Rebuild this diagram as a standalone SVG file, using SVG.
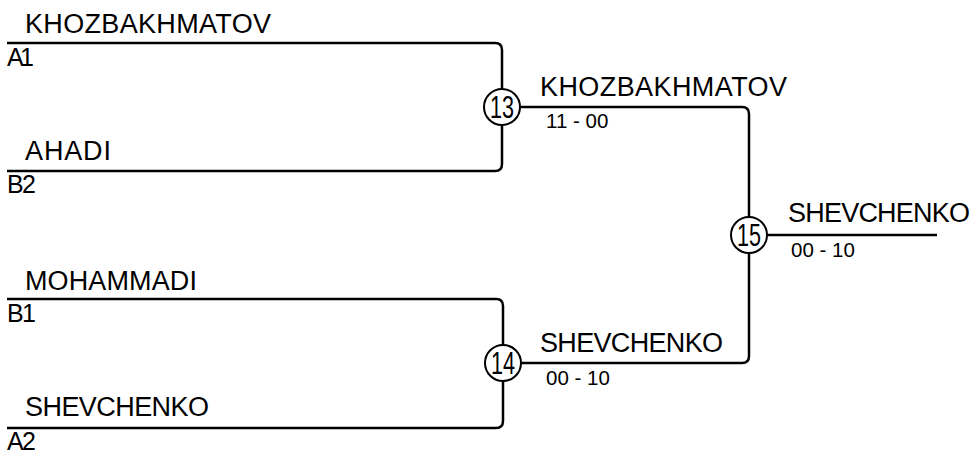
<svg xmlns="http://www.w3.org/2000/svg" width="973" height="454" viewBox="0 0 973 454">
<style>
.ln{fill:none;stroke:#000;stroke-width:2.5}
.c{fill:#fff;stroke:#000;stroke-width:2}
.nm{font-family:"Liberation Sans",Arial,sans-serif;font-size:27px;fill:#000}
.lb{font-family:"Liberation Sans",Arial,sans-serif;font-size:25px;fill:#000}
.sc{font-family:"Liberation Sans",Arial,sans-serif;font-size:20.5px;fill:#000}
.num{font-family:"Liberation Sans",Arial,sans-serif;font-size:31px;fill:#000;text-anchor:middle}
</style>
<rect width="973" height="454" fill="#fff"/>
<g id="connectors">
<path class="ln" d="M7,43 H495 Q502,43 502,50 V164 Q502,171 495,171 H7"/>
<path class="ln" d="M7,299 H496 Q503,299 503,306 V421 Q503,428 496,428 H7"/>
<path class="ln" d="M520,107 H742 Q749,107 749,114 V356 Q749,363 742,363 H521"/>
<path class="ln" d="M767,235 H937"/>
</g>
<g id="p1">
<text class="nm" x="25" y="33" textLength="246">KHOZBAKHMATOV</text>
<text class="lb" x="7" y="66" textLength="27">A1</text>
</g>
<g id="p2">
<text class="nm" x="25" y="160" textLength="86">AHADI</text>
<text class="lb" x="7" y="193" textLength="29">B2</text>
</g>
<g id="p3">
<text class="nm" x="25" y="290" textLength="172">MOHAMMADI</text>
<text class="lb" x="7" y="322" textLength="29">B1</text>
</g>
<g id="p4">
<text class="nm" x="25" y="416" textLength="184">SHEVCHENKO</text>
<text class="lb" x="7" y="450" textLength="29">A2</text>
</g>
<g id="m13">
<circle class="c" cx="502" cy="107" r="18"/>
<text class="num" x="502" y="118" textLength="24" lengthAdjust="spacingAndGlyphs">13</text>
<text class="nm" x="540" y="96" textLength="247">KHOZBAKHMATOV</text>
<text class="sc" x="546" y="128">11 - 00</text>
</g>
<g id="m14">
<circle class="c" cx="503" cy="363" r="18"/>
<text class="num" x="503" y="374" textLength="24" lengthAdjust="spacingAndGlyphs">14</text>
<text class="nm" x="540" y="352" textLength="183">SHEVCHENKO</text>
<text class="sc" x="546" y="385">00 - 10</text>
</g>
<g id="m15">
<circle class="c" cx="749" cy="235" r="18"/>
<text class="num" x="749" y="246" textLength="24" lengthAdjust="spacingAndGlyphs">15</text>
<text class="nm" x="788" y="222" textLength="182">SHEVCHENKO</text>
<text class="sc" x="791" y="257">00 - 10</text>
</g>
</svg>
